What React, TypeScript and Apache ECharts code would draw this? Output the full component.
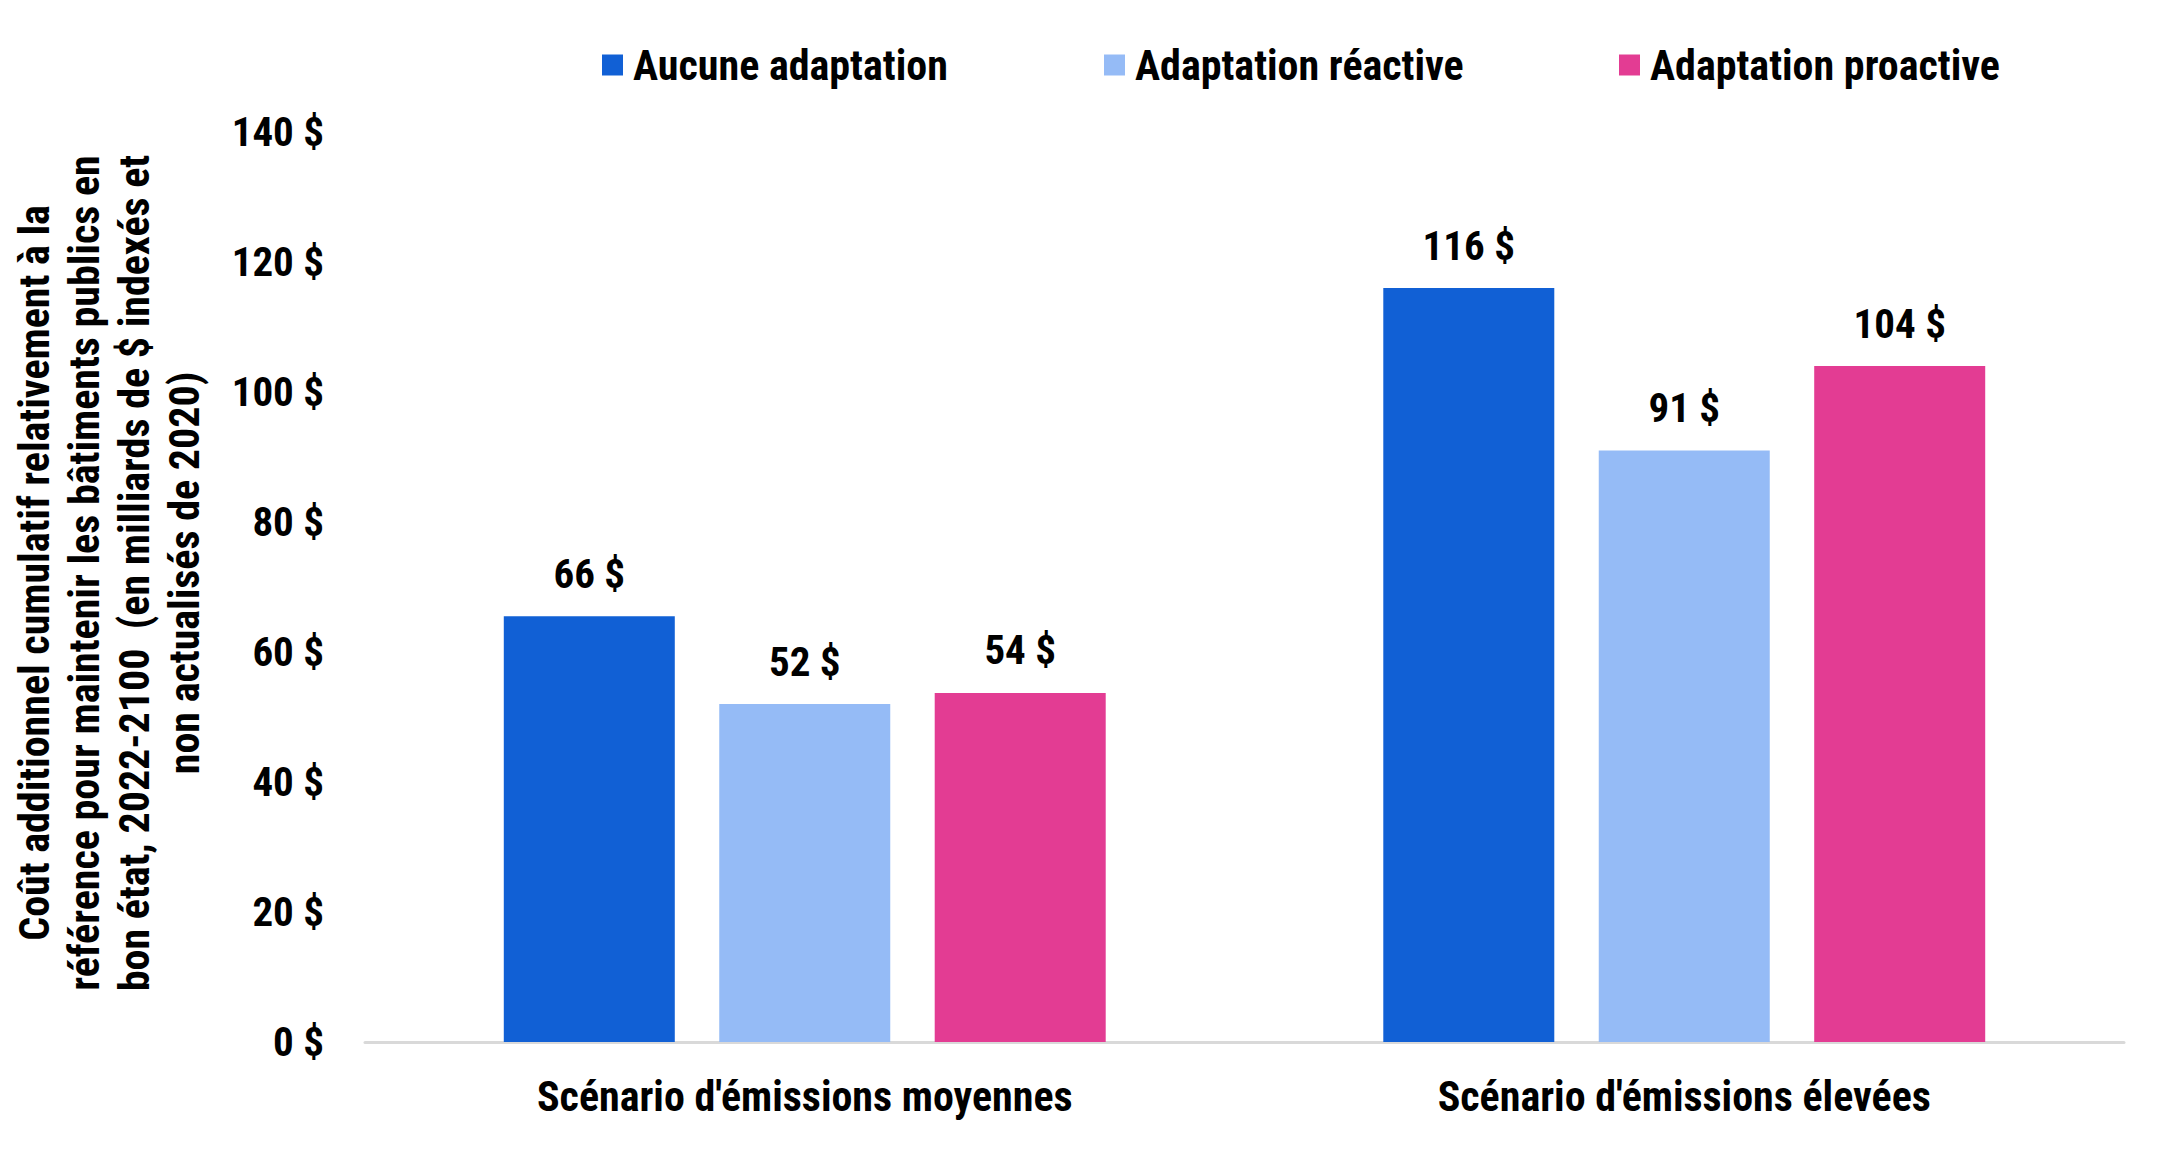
import React, { useEffect, useRef } from "react";
import * as echarts from "echarts";

const categories = ["Scénario d'émissions moyennes", "Scénario d'émissions élevées"];
const seriesNames = ["Aucune adaptation", "Adaptation réactive", "Adaptation proactive"];
const aucune = [65.5, 116];
const reactive = [52, 91];
const proactive = [53.7, 104];
const colors = ["#1160D5", "#95BBF6", "#E33C93"];
const yTitle =
  "Coût additionnel cumulatif relativement à la\nréférence pour maintenir les bâtiments publics en\nbon état, 2022-2100  (en milliards de $ indexés et\nnon actualisés de 2020)";

const FONT = '"Liberation Sans Narrow", "Arial Narrow", "Roboto Condensed", sans-serif';

export default function App() {
  const ref = useRef<HTMLDivElement>(null);
  useEffect(() => {
    if (!ref.current) return;
    const chart = echarts.init(ref.current, null, { renderer: "svg" });
    const values = [aucune, reactive, proactive];
    const legendLefts = [597, 1099, 1614];
    chart.setOption({
      animation: false,
      backgroundColor: "#ffffff",
      textStyle: { fontFamily: FONT },
      legend: seriesNames.map((n, i) => ({
        data: [n],
        left: legendLefts[i],
        top: 39,
        itemWidth: 21,
        itemHeight: 21,
        itemGap: 0,
        icon: "rect",
        textStyle: { fontFamily: FONT, fontWeight: "bold", fontSize: 42, color: "#000", padding: [0, 0, 0, 5] },
      })),
      grid: { left: 365, right: 52, top: 132, bottom: 113, containLabel: false },
      xAxis: {
        type: "category",
        data: categories,
        axisLine: { show: true, lineStyle: { color: "#D9D9D9", width: 3 } },
        axisTick: { show: false },
        axisLabel: { fontFamily: FONT, fontWeight: "bold", fontSize: 42, color: "#000", margin: 33 },
      },
      yAxis: {
        type: "value",
        min: 0,
        max: 140,
        interval: 20,
        splitLine: { show: false },
        axisLine: { show: false },
        axisTick: { show: false },
        axisLabel: {
          fontFamily: FONT,
          fontWeight: "bold",
          fontSize: 41,
          color: "#000",
          margin: 41,
          formatter: (v: number) => `${v} $`,
        },
      },
      graphic: [
        {
          type: "text",
          x: 109,
          y: 573,
          rotation: Math.PI / 2,
          style: {
            text: yTitle,
            fontFamily: FONT,
            fontWeight: "bold",
            fontSize: 42,
            lineHeight: 50,
            fill: "#000",
            align: "center",
            verticalAlign: "middle",
          },
        },
      ],
      series: seriesNames.map((n, i) => ({
        name: n,
        type: "bar",
        data: values[i],
        barWidth: 171,
        barGap: "26%",
        itemStyle: { color: colors[i] },
        label: {
          show: true,
          position: "top",
          distance: 22,
          fontFamily: FONT,
          fontWeight: "bold",
          fontSize: 41,
          color: "#000",
          formatter: (p: any) => `${Math.round(p.value)} $`,
        },
      })),
    });
    return () => chart.dispose();
  }, []);
  return (
    <div
      ref={ref}
      style={{ position: "fixed", left: 0, top: 0, width: 2176, height: 1155, background: "#fff" }}
    />
  );
}
